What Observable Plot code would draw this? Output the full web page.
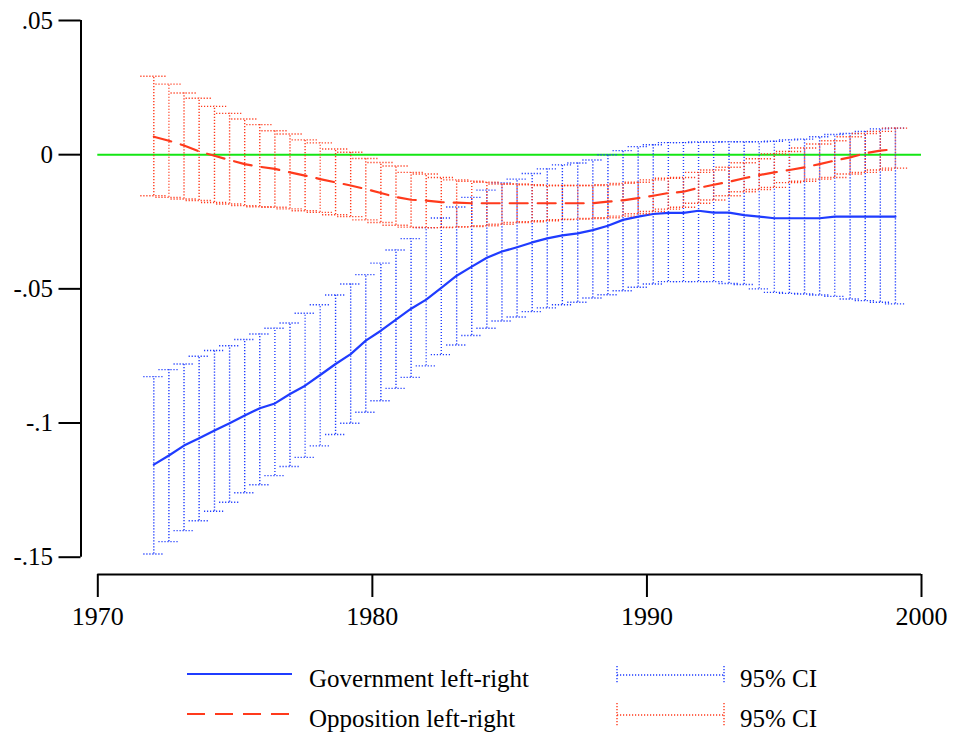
<!DOCTYPE html>
<html><head><meta charset="utf-8">
<script src="https://cdn.jsdelivr.net/npm/d3@7"></script>
<script src="https://cdn.jsdelivr.net/npm/@observablehq/plot@0.6"></script>
<style>
body{margin:0;background:#fff;}
#wrap{position:relative;width:956px;height:735px;font-family:"Liberation Serif","Times New Roman",serif;background:#fff;}
#wrap svg, #wrap svg text{font-family:"Liberation Serif","Times New Roman",serif !important;}
#legend{position:absolute;left:0;top:640px;}
</style></head><body><div id="wrap"></div>
<script>
const years = [1972.04,1972.59,1973.14,1973.69,1974.25,1974.80,1975.35,1975.90,1976.45,1977.00,1977.55,1978.10,1978.66,1979.21,1979.76,1980.31,1980.86,1981.41,1981.96,1982.51,1983.07,1983.62,1984.17,1984.72,1985.27,1985.82,1986.37,1986.92,1987.48,1988.03,1988.58,1989.13,1989.68,1990.23,1990.78,1991.33,1991.88,1992.43,1992.99,1993.54,1994.09,1994.64,1995.19,1995.74,1996.29,1996.84,1997.40,1997.95,1998.50,1999.05];
const govEst = [-0.1155,-0.1121,-0.1084,-0.1057,-0.1028,-0.1001,-0.0972,-0.0945,-0.0927,-0.0892,-0.0861,-0.0821,-0.0780,-0.0743,-0.0693,-0.0656,-0.0615,-0.0574,-0.0540,-0.0496,-0.0451,-0.0417,-0.0384,-0.0361,-0.0345,-0.0327,-0.0312,-0.0301,-0.0293,-0.0281,-0.0265,-0.0243,-0.0231,-0.0221,-0.0217,-0.0217,-0.0209,-0.0216,-0.0216,-0.0225,-0.0231,-0.0237,-0.0237,-0.0237,-0.0237,-0.0231,-0.0231,-0.0231,-0.0231,-0.0231];
const govLo = [-0.1488,-0.1442,-0.1401,-0.1364,-0.1329,-0.1295,-0.1260,-0.1230,-0.1196,-0.1162,-0.1128,-0.1085,-0.1043,-0.1001,-0.0960,-0.0917,-0.0871,-0.0830,-0.0787,-0.0745,-0.0709,-0.0674,-0.0647,-0.0620,-0.0605,-0.0585,-0.0571,-0.0559,-0.0550,-0.0534,-0.0522,-0.0507,-0.0494,-0.0482,-0.0473,-0.0473,-0.0473,-0.0473,-0.0480,-0.0484,-0.0500,-0.0513,-0.0517,-0.0519,-0.0523,-0.0528,-0.0538,-0.0544,-0.0550,-0.0556];
const govHi = [-0.0827,-0.0801,-0.0780,-0.0751,-0.0730,-0.0712,-0.0689,-0.0668,-0.0647,-0.0627,-0.0591,-0.0559,-0.0523,-0.0482,-0.0447,-0.0404,-0.0355,-0.0313,-0.0272,-0.0236,-0.0195,-0.0159,-0.0132,-0.0105,-0.0091,-0.0070,-0.0053,-0.0038,-0.0031,-0.0020,0.0000,0.0015,0.0030,0.0037,0.0045,0.0045,0.0047,0.0047,0.0048,0.0048,0.0048,0.0050,0.0055,0.0058,0.0067,0.0075,0.0079,0.0087,0.0096,0.0099];
const oppEst = [0.0067,0.0052,0.0034,0.0012,-0.0004,-0.0020,-0.0035,-0.0045,-0.0053,-0.0066,-0.0078,-0.0091,-0.0103,-0.0115,-0.0128,-0.0143,-0.0158,-0.0168,-0.0171,-0.0177,-0.0179,-0.0181,-0.0181,-0.0181,-0.0181,-0.0181,-0.0181,-0.0181,-0.0181,-0.0181,-0.0175,-0.0170,-0.0162,-0.0153,-0.0143,-0.0138,-0.0124,-0.0112,-0.0101,-0.0088,-0.0076,-0.0066,-0.0057,-0.0047,-0.0035,-0.0022,-0.0010,0.0005,0.0015,0.0021];
const oppLo = [-0.0153,-0.0159,-0.0165,-0.0171,-0.0178,-0.0184,-0.0190,-0.0194,-0.0196,-0.0202,-0.0209,-0.0215,-0.0224,-0.0231,-0.0243,-0.0253,-0.0263,-0.0270,-0.0272,-0.0272,-0.0270,-0.0268,-0.0265,-0.0259,-0.0253,-0.0250,-0.0246,-0.0242,-0.0240,-0.0238,-0.0235,-0.0229,-0.0220,-0.0212,-0.0203,-0.0196,-0.0181,-0.0169,-0.0153,-0.0138,-0.0130,-0.0122,-0.0104,-0.0099,-0.0091,-0.0085,-0.0072,-0.0066,-0.0057,-0.0050];
const oppHi = [0.0292,0.0263,0.0230,0.0210,0.0180,0.0154,0.0133,0.0112,0.0089,0.0077,0.0055,0.0044,0.0021,0.0009,-0.0014,-0.0029,-0.0042,-0.0066,-0.0072,-0.0085,-0.0094,-0.0099,-0.0103,-0.0109,-0.0109,-0.0112,-0.0115,-0.0115,-0.0115,-0.0115,-0.0112,-0.0107,-0.0103,-0.0094,-0.0088,-0.0085,-0.0066,-0.0057,-0.0047,-0.0030,-0.0015,0.0003,0.0012,0.0025,0.0040,0.0052,0.0067,0.0079,0.0087,0.0099];
const xTicks = [1970, 1980, 1990, 2000];
const yTicks = [-0.15, -0.1, -0.05, 0, 0.05];
const yTickLabels = ["-.15", "-.1", "-.05", "0", ".05"];
const seriesNames = ["Government left-right", "Opposition left-right"];
const ciLabel = "95% CI";

const gov = years.map((x, i) => ({x, est: govEst[i], lo: govLo[i], hi: govHi[i]}));
const opp = years.map((x, i) => ({x, est: oppEst[i], lo: oppLo[i], hi: oppHi[i]}));

const BLUE = "#1f3cff", RED = "#ff3a1c", GREEN = "#14e614";
const DOT = "1.2,1.8";
const DASH = "18,10";
const FONT = "'Liberation Serif', 'Times New Roman', serif";

function ciMarks(data, color, capHalf) {
  return [
    Plot.ruleX(data, {x: "x", y1: "lo", y2: "hi", stroke: color, strokeWidth: 1.4, strokeDasharray: DOT}),
    Plot.ruleY(data, {y: "lo", x1: "x", x2: "x", insetLeft: -capHalf, insetRight: -capHalf, stroke: color, strokeWidth: 1.4, strokeDasharray: DOT}),
    Plot.ruleY(data, {y: "hi", x1: "x", x2: "x", insetLeft: -capHalf, insetRight: -capHalf, stroke: color, strokeWidth: 1.4, strokeDasharray: DOT})
  ];
}

const chart = Plot.plot({
  width: 956, height: 640,
  marginLeft: 80.5, marginRight: 35, marginTop: 20, marginBottom: 66,
  x: {domain: [xTicks[0], xTicks[xTicks.length - 1]], insetLeft: 16.8},
  y: {domain: [yTicks[0], yTicks[yTicks.length - 1]], insetBottom: 17.3},
  style: {fontFamily: FONT, background: "#fff", color: "#000", overflow: "visible"},
  marks: [
    Plot.ruleX([xTicks[0]], {y1: yTicks[0], y2: yTicks[yTicks.length - 1], dx: -16.8, stroke: "#000", strokeWidth: 2}),
    Plot.ruleY([yTicks[0]], {x1: xTicks[0], x2: xTicks[xTicks.length - 1], dy: 17.3, stroke: "#000", strokeWidth: 2}),
    Plot.axisY({ticks: yTicks, tickSize: 22, tickPadding: 6, strokeWidth: 2, fontSize: 25, label: null,
      tickFormat: d => yTickLabels[yTicks.indexOf(d)]}),
    Plot.axisX({ticks: xTicks, tickSize: 23, tickPadding: 9, strokeWidth: 2, fontSize: 26, label: null,
      tickFormat: d => String(d)}),
    Plot.ruleY([0], {x1: xTicks[0], x2: xTicks[xTicks.length - 1], stroke: GREEN, strokeWidth: 2}),
    Plot.line(gov, {x: "x", y: "est", stroke: BLUE, strokeWidth: 2.2}),
    ...ciMarks(gov, BLUE, 10),
    Plot.line(opp, {x: "x", y: "est", stroke: RED, strokeWidth: 2.2, strokeDasharray: DASH}),
    ...ciMarks(opp, RED, 13)
  ]
});

const wrap = document.getElementById("wrap");
wrap.appendChild(chart);

// legend below the chart
const lg = d3.select(wrap).append("svg").attr("id", "legend")
  .attr("width", 956).attr("height", 95)
  .style("font-family", FONT);

const rows = [
  {name: seriesNames[0], color: BLUE, dash: null, y: 34, capHalf: 9},
  {name: seriesNames[1], color: RED, dash: DASH, y: 74, capHalf: 12}
];
rows.forEach(r => {
  lg.append("line").attr("x1", 187).attr("x2", 292).attr("y1", r.y).attr("y2", r.y)
    .attr("stroke", r.color).attr("stroke-width", 2.2).attr("stroke-dasharray", r.dash);
  lg.append("text").attr("x", 309).attr("y", r.y + 13).attr("font-size", 25).attr("fill", "#000").text(r.name);
  const g = lg.append("g").attr("stroke", r.color).attr("stroke-width", 1.4).attr("stroke-dasharray", DOT).attr("fill", "none");
  g.append("line").attr("x1", 617).attr("x2", 724).attr("y1", r.y + 1).attr("y2", r.y + 1);
  g.append("line").attr("x1", 617).attr("x2", 617).attr("y1", r.y + 1 - r.capHalf).attr("y2", r.y + 1 + r.capHalf);
  g.append("line").attr("x1", 724).attr("x2", 724).attr("y1", r.y + 1 - r.capHalf).attr("y2", r.y + 1 + r.capHalf);
  lg.append("text").attr("x", 740).attr("y", r.y + 13).attr("font-size", 25).attr("fill", "#000").text(ciLabel);
});
</script></body></html>
